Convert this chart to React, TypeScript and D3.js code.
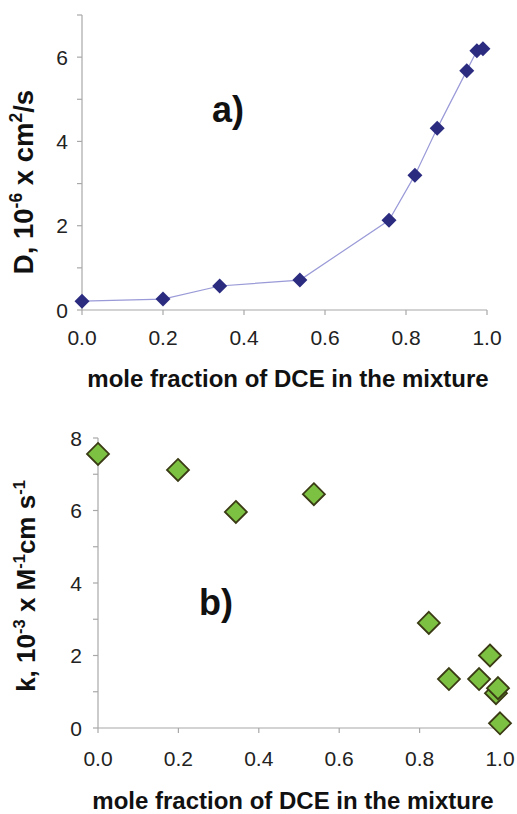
import React from 'react'
import * as d3 from 'd3'

const WIDTH = 517
const HEIGHT = 814
const FONT = 'Liberation Sans, Arial, sans-serif'

// panel a) diffusion coefficient
const dceFractionA = [0, 0.2, 0.34, 0.538, 0.758, 0.822, 0.877, 0.95, 0.975, 0.99]
const diffusionD = [0.21, 0.26, 0.57, 0.71, 2.13, 3.2, 4.31, 5.68, 6.15, 6.2]

// panel b) rate constant
const dceFractionB = [0, 0.199, 0.343, 0.537, 0.823, 0.873, 0.948, 0.975, 0.99, 0.995, 1.0]
const rateK = [7.56, 7.12, 5.96, 6.45, 2.9, 1.35, 1.35, 2.0, 0.96, 1.1, 0.13]

const xTicks = [0, 0.2, 0.4, 0.6, 0.8, 1.0]
const yTicksA = [0, 1, 2, 3, 4, 5, 6, 7]
const yTicksB = [0, 1, 2, 3, 4, 5, 6, 7, 8]

const X_TITLE = 'mole fraction of DCE in the mixture'

function diamond(cx, cy, r) {
  return `M${cx},${cy - r}L${cx + r},${cy}L${cx},${cy + r}L${cx - r},${cy}Z`
}

function Axes({ x, y, yTicks, labelGap, xLabelOffset }) {
  const [x0, x1] = x.range()
  const [y0, y1] = y.range()
  return (<g>
    <line x1={x0} x2={x0} y1={y0} y2={y1} stroke="#a8a8a8" strokeWidth={1.2} />
    <line x1={x0} x2={x1} y1={y0} y2={y0} stroke="#a8a8a8" strokeWidth={1.2} />
    {yTicks.map((t) => (<g key={'y' + t}>
      <line x1={x0 - 5} x2={x0} y1={y(t)} y2={y(t)} stroke="#a8a8a8" strokeWidth={1.2} />
      {t % 2 === 0 && <text x={x0 - labelGap} y={y(t)} dy="0.36em" textAnchor="end"
        fontFamily={FONT} fontSize={21} fill="#222">{t}</text>}
    </g>))}
    {xTicks.map((t) => (<g key={'x' + t}>
      <line x1={x(t)} x2={x(t)} y1={y0} y2={y0 + 5} stroke="#a8a8a8" strokeWidth={1.2} />
      <text x={x(t)} y={y0 + xLabelOffset} dy="0.36em" textAnchor="middle"
        fontFamily={FONT} fontSize={21} fill="#222">{d3.format('.1f')(t)}</text>
    </g>))}
  </g>)
}

function PanelA() {
  const x = d3.scaleLinear().domain([0, 1]).range([82, 487])
  const y = d3.scaleLinear().domain([0, 7]).range([310, 15])
  const pts = dceFractionA.map((v, i) => [v, diffusionD[i]])
  const line = d3.line().x((d) => x(d[0])).y((d) => y(d[1]))
  return (<g>
    <Axes x={x} y={y} yTicks={yTicksA} labelGap={14} xLabelOffset={27} />
    <path d={line(pts)} fill="none" stroke="#9a9ad8" strokeWidth={1.2} />
    {pts.map((d, i) => (
      <path key={i} d={diamond(x(d[0]), y(d[1]), 7.5)} fill="#2b2b80" />
    ))}
    <text x={212} y={122} fontFamily={FONT} fontWeight="bold" fontSize={36} fill="#111">a)</text>
    <text x={288} y={378} dy="0.36em" textAnchor="middle" fontFamily={FONT}
      fontWeight="bold" fontSize={24} fill="#111">{X_TITLE}</text>
    <text transform="translate(33,182) rotate(-90)" textAnchor="middle" fontFamily={FONT}
      fontWeight="bold" fontSize={27.5} fill="#111">
      D, 10<tspan dy={-11} fontSize={17.5}>-6</tspan>
      <tspan dy={11}> x cm</tspan><tspan dy={-11} fontSize={17.5}>2</tspan>
      <tspan dy={11}>/s</tspan>
    </text>
  </g>)
}

function PanelB() {
  const x = d3.scaleLinear().domain([0, 1]).range([98, 500])
  const y = d3.scaleLinear().domain([0, 8]).range([728, 438])
  const pts = dceFractionB.map((v, i) => [v, rateK[i]])
  return (<g>
    <Axes x={x} y={y} yTicks={yTicksB} labelGap={16} xLabelOffset={30} />
    {pts.map((d, i) => (
      <path key={i} d={diamond(x(d[0]), y(d[1]), 11)} fill="#7cc142"
        stroke="#3a3a14" strokeWidth={1.8} />
    ))}
    <text x={199} y={615} fontFamily={FONT} fontWeight="bold" fontSize={36} fill="#111">b)</text>
    <text x={293} y={800} dy="0.36em" textAnchor="middle" fontFamily={FONT}
      fontWeight="bold" fontSize={24} fill="#111">{X_TITLE}</text>
    <text transform="translate(35,586) rotate(-90)" textAnchor="middle" fontFamily={FONT}
      fontWeight="bold" fontSize={26} fill="#111">
      k, 10<tspan dy={-10} fontSize={16.5}>-3</tspan>
      <tspan dy={10}> x M</tspan><tspan dy={-10} fontSize={16.5}>-1</tspan>
      <tspan dy={10}>cm s</tspan><tspan dy={-10} fontSize={16.5}>-1</tspan>
    </text>
  </g>)
}

export default function App() {
  return (<svg width={WIDTH} height={HEIGHT}
    style={{ position: 'absolute', left: 0, top: 0, background: '#fff' }}>
    <rect width={WIDTH} height={HEIGHT} fill="#fff" />
    <PanelA />
    <PanelB />
  </svg>)
}
